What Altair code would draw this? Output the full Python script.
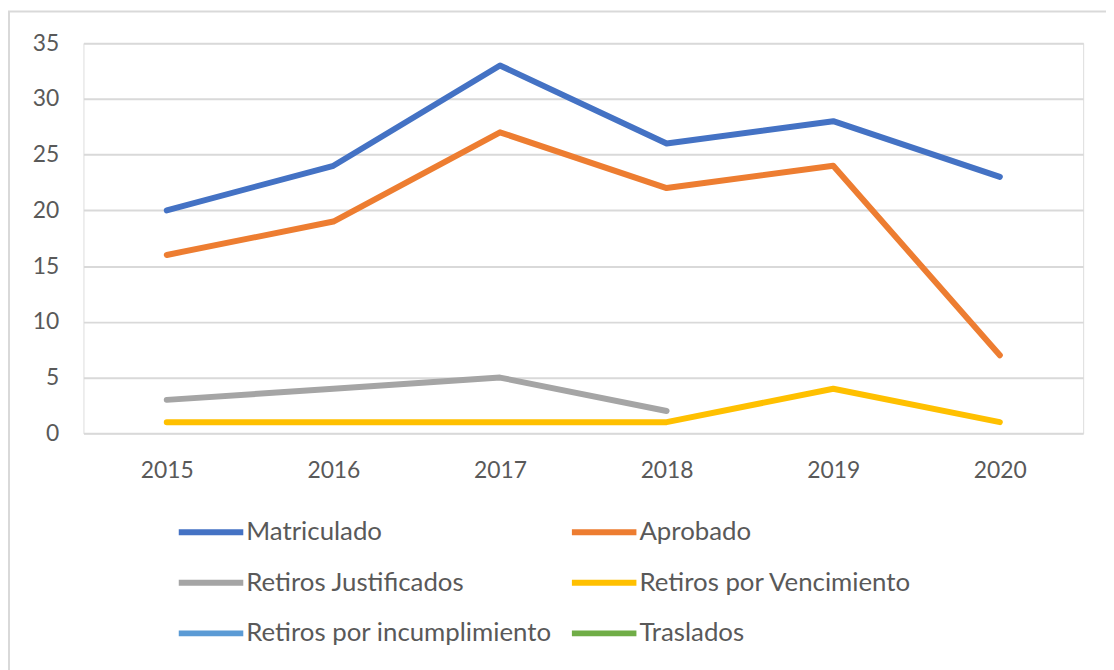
import altair as alt
import pandas as pd

years = ["2015", "2016", "2017", "2018", "2019", "2020"]
series_names = ["Matriculado", "Aprobado", "Retiros Justificados",
                "Retiros por Vencimiento", "Retiros por incumplimiento", "Traslados"]
colors = ["#4472C4", "#ED7D31", "#A5A5A5", "#FFC000", "#5B9BD5", "#70AD47"]

matriculado = [20, 24, 33, 26, 28, 23]
aprobado = [16, 19, 27, 22, 24, 7]
retiros_justificados = [3, 4, 5, 2, None, None]
retiros_vencimiento = [1, 1, 1, 1, 4, 1]
retiros_incumplimiento = [None, None, None, None, None, None]
traslados = [None, None, None, None, None, None]

all_values = [matriculado, aprobado, retiros_justificados,
              retiros_vencimiento, retiros_incumplimiento, traslados]

rows = []
for name, vals in zip(series_names, all_values):
    for y, v in zip(years, vals):
        rows.append({"Año": y, "Serie": name, "Valor": v})
df = pd.DataFrame(rows)

FONT = "Lato"
TXT = "#595959"

lines = alt.Chart(df).mark_line(strokeWidth=6, strokeCap="round", strokeJoin="round").encode(
    x=alt.X("Año:O", sort=years, title=None,
            scale=alt.Scale(type="point", padding=0.5),
            axis=alt.Axis(labelAngle=0, ticks=False, domain=False, grid=False,
                          labelFontSize=23, labelColor=TXT, labelFont=FONT, labelPadding=27)),
    y=alt.Y("Valor:Q", title=None,
            scale=alt.Scale(domain=[0, 35], nice=False),
            axis=alt.Axis(values=[0, 5, 10, 15, 20, 25, 30, 35], ticks=False, domain=False,
                          grid=True, gridColor="#D9D9D9", gridWidth=2,
                          labelFontSize=23, labelColor=TXT, labelFont=FONT, labelPadding=25)),
    color=alt.Color("Serie:N", sort=series_names,
                    scale=alt.Scale(domain=series_names, range=colors),
                    legend=alt.Legend(title=None, orient="none", legendX=93, legendY=457,
                                      direction="horizontal",
                                      columns=2, symbolType="stroke", symbolSize=4225,
                                      symbolStrokeWidth=6, labelFontSize=26, labelFont=FONT,
                                      labelColor=TXT, columnPadding=8, rowPadding=2,
                                      labelOffset=0, gridAlign="each", labelLimit=400)),
    detail="Serie:N",
)

frame = alt.Chart(pd.DataFrame({"a": [0]})).mark_rect(
    fill=None, stroke="#D9D9D9", strokeWidth=2
).encode(x=alt.value(-75), x2=alt.value(1200), y=alt.value(-32), y2=alt.value(800))

chart = alt.layer(frame, lines).properties(
    width=1007, height=393,
    autosize=alt.AutoSizeParams(type="none"),
    padding={"left": 76, "top": 33, "right": 23, "bottom": 236},
).configure_view(stroke=None).configure(background="white")

chart.save("out.html", embed_options={"renderer": "svg", "actions": False})
